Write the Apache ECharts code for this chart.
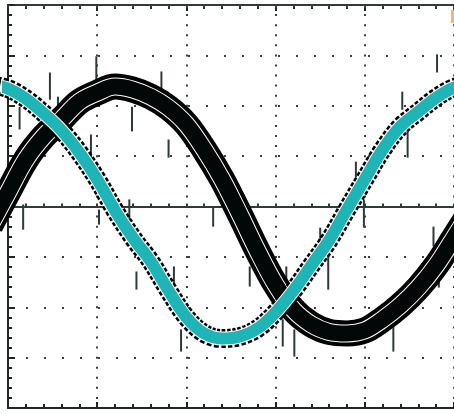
<!DOCTYPE html>
<html>
<head>
<meta charset="utf-8">
<script src="https://cdn.jsdelivr.net/npm/echarts@6/dist/echarts.min.js"></script>
<style>
html,body{margin:0;padding:0;background:#fff;}
#chart{width:454px;height:414px;}
</style>
</head>
<body>
<div id="chart"></div>
<script>
// Sample positions (horizontal divisions)
const sampleX = [-0.2, 0, 0.2, 0.4, 0.6, 0.8, 1.0, 1.2, 1.4, 1.6, 1.8, 2.0, 2.2, 2.4, 2.6, 2.8, 3.0, 3.2, 3.4, 3.6, 3.8, 4.0, 4.2, 4.4, 4.6, 4.8, 5.0, 5.2];
// Channel 1 (black trace), vertical divisions
const blackY = [-0.38, 0.28, 0.93, 1.39, 1.73, 2.08, 2.26, 2.38, 2.32, 2.18, 1.96, 1.63, 1.13, 0.54, -0.16, -0.89, -1.55, -2.05, -2.34, -2.49, -2.52, -2.46, -2.24, -1.96, -1.61, -1.17, -0.62, -0.06];
// Channel 2 (cyan trace), vertical divisions
const cyanY = [2.42, 2.34, 2.14, 1.85, 1.51, 1.07, 0.54, -0.08, -0.62, -1.09, -1.67, -2.20, -2.52, -2.62, -2.58, -2.42, -2.10, -1.67, -1.17, -0.67, -0.06, 0.54, 1.13, 1.59, 1.88, 2.16, 2.36, 2.44];
// Noise spikes: x position, top and bottom (divisions)
const spikeX      = [0.47, 0.56, 0.99, 1.72, 1.39, 0.93, 1.80, 2.21, 0.13, 0.17, 1.36, 1.44, 1.86, 1.94, 1.02, 2.30, 2.62, 3.12, 3.08, 3.21, 3.50, 3.59, 3.99, 4.32, 4.77, 4.83, 2.71, 3.90, 4.42, 4.48, 4.81];
const spikeTop    = [2.66, 2.18, 2.98, 2.68, 1.98, 1.43, 1.33, 1.39, 1.98, 0.04, 0.14, -1.29, -1.19, -2.44, -0.06, 0.00, 0.14, -1.19, -2.24, -2.44, -0.42, -0.85, 0.14, -2.24, -0.40, -0.99, -1.19, 0.89, 2.28, 1.57, 3.02];
const spikeBottom = [2.12, 1.88, 2.52, 2.18, 1.49, 0.93, 0.97, 0.83, 1.53, -0.46, -0.30, -1.65, -1.71, -2.88, -0.36, -0.40, -0.46, -1.79, -2.78, -2.98, -0.79, -1.65, -0.42, -2.88, -0.79, -1.61, -1.59, 0.58, 1.92, 0.97, 2.66];

const AX = '#1e2626';
const DOT = '#3a3f3f';
const rect = {left: 8, top: 5, width: 450, height: 403};

const blackData = sampleX.map((x, i) => [x, blackY[i]]);
const cyanData = sampleX.map((x, i) => [x, cyanY[i]]);
const spikeData = spikeX.map((x, i) => [x, spikeTop[i], spikeBottom[i]]);

function borderX(pos) {
  return {
    type: 'value', gridIndex: 0, min: 0, max: 5, interval: 1, position: pos,
    axisLine: {show: true, onZero: false, lineStyle: {color: AX, width: 2}},
    axisTick: {show: true, inside: true, length: 6, lineStyle: {color: AX, width: 2}},
    minorTick: {show: true, splitNumber: 5, length: 4, lineStyle: {color: AX, width: 2}},
    axisLabel: {show: false},
    splitLine: {show: pos === 'bottom', lineStyle: {color: DOT, width: 2, type: [2, 8.075], dashOffset: 1}}
  };
}
function centerX(pos) {
  return {
    type: 'value', gridIndex: 1, min: 0, max: 5, interval: 1, position: pos,
    axisLine: {show: true, onZero: true, lineStyle: {color: '#333a3a', width: 2}},
    axisTick: {show: true, inside: true, length: 3, lineStyle: {color: '#333a3a', width: 2}},
    minorTick: {show: true, splitNumber: 5, length: 3, lineStyle: {color: '#333a3a', width: 2}},
    axisLabel: {show: false},
    splitLine: {show: false}
  };
}

const lineBase = {type: 'line', xAxisIndex: 0, yAxisIndex: 0, smooth: 0.35, symbol: 'none', silent: true};

const option = {
  animation: false,
  backgroundColor: '#ffffff',
  grid: [
    Object.assign({show: false}, rect),
    Object.assign({show: false}, rect)
  ],
  xAxis: [borderX('bottom'), borderX('top'), centerX('bottom'), centerX('top')],
  yAxis: [
    {
      type: 'value', gridIndex: 0, min: -4, max: 4, interval: 1, position: 'left',
      axisLine: {show: true, onZero: false, lineStyle: {color: AX, width: 2}},
      axisTick: {show: true, inside: true, length: 7, lineStyle: {color: AX, width: 2}},
      minorTick: {show: true, splitNumber: 5, length: 4, lineStyle: {color: AX, width: 2}},
      axisLabel: {show: false},
      splitLine: {show: true, lineStyle: {color: DOT, width: 2, type: [2, 16], dashOffset: 0}}
    },
    {
      type: 'value', gridIndex: 1, min: -4, max: 4, interval: 1, show: false
    }
  ],
  graphic: [
    {type: 'rect', left: 451, top: 10, shape: {width: 3, height: 13}, style: {fill: '#f2b478'}, z: 100}
  ],
  series: [
    {
      type: 'custom', xAxisIndex: 0, yAxisIndex: 0, data: spikeData, silent: true, z: 1,
      renderItem: function (params, api) {
        const p1 = api.coord([api.value(0), api.value(1)]);
        const p2 = api.coord([api.value(0), api.value(2)]);
        return {type: 'line', shape: {x1: p1[0], y1: p1[1], x2: p2[0], y2: p2[1]}, style: {stroke: '#2e3a3a', lineWidth: 2}};
      }
    },
    Object.assign({}, lineBase, {data: blackData, z: 2, lineStyle: {color: '#000000', width: 26}}),
    Object.assign({}, lineBase, {data: blackData, z: 3, lineStyle: {color: '#ffffff', width: 18}}),
    Object.assign({}, lineBase, {data: blackData, z: 4, lineStyle: {color: '#020808', width: 16}}),
    Object.assign({}, lineBase, {data: cyanData, z: 5, lineStyle: {color: '#000000', width: 19, type: [4, 2]}}),
    Object.assign({}, lineBase, {data: cyanData, z: 6, lineStyle: {color: '#ffffff', width: 14}}),
    Object.assign({}, lineBase, {data: cyanData, z: 7, lineStyle: {color: '#1fb4b6', width: 12}})
  ]
};

const chart = echarts.init(document.getElementById('chart'), null, {renderer: 'canvas'});
chart.setOption(option);
</script>
</body>
</html>
